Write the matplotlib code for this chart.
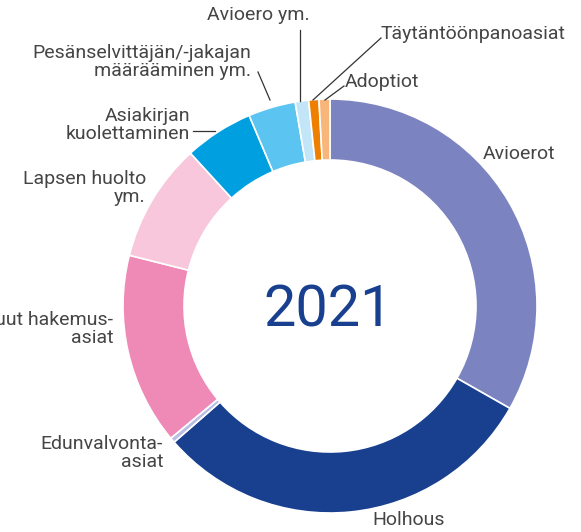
import matplotlib.pyplot as plt

# Donut slices, clockwise from the top
categories = ["Avioerot", "Holhous", "Edunvalvonta-asiat", "Muut hakemusasiat",
              "Lapsen huolto ym.", "Asiakirjan kuolettaminen",
              "Pesänselvittäjän/-jakajan määrääminen ym.", "Avioero ym.",
              "Täytäntöönpanoasiat", "Adoptiot"]
shares = [33.3, 30.4, 0.4, 15.0, 9.3, 5.4, 3.7, 1.05, 0.8, 0.85]
colors = ["#7b83c0", "#19408f", "#b9bee2", "#ef8ab6", "#f8c7dc",
          "#009fe0", "#5cc4f0", "#c2e5f8", "#ef7f00", "#f8b67a"]
year = "2021"

W, H = 581, 532
TXT = "#454545"
FONT = "Roboto"

fig = plt.figure(figsize=(W / 100, H / 100), dpi=100)
ax = fig.add_axes([0, 0, 1, 1])

ax.pie(shares, colors=colors, startangle=90, counterclock=False,
       center=(330, H - 306), radius=207,
       wedgeprops=dict(width=61, edgecolor="white", linewidth=1.2))
ax.set_xlim(0, W)
ax.set_ylim(0, H)
ax.set_aspect("equal")
ax.axis("off")

ax.text(328, H - 305, year, ha="center", va="center_baseline", fontsize=41.5,
        color="#19408f", family=FONT)


def label(x, y, s, ha="left"):
    ax.text(x, H - y, s, ha=ha, va="center", fontsize=14, color=TXT,
            family=FONT, linespacing=1.02)


def leader(x0, y0, x1, y1):
    ax.plot([x0, x1], [H - y0, H - y1], color="#333333", lw=0.9)


label(483, 154, "Avioerot")
label(372, 520, "Holhous")
label(163, 453, "Edunvalvonta-\nasiat", ha="right")
label(113, 329, "Muut hakemus-\nasiat", ha="right")
label(146, 188, "Lapsen huolto\nym.", ha="right")
label(190, 125, "Asiakirjan\nkuolettaminen", ha="right")
label(251, 62, "Pesänselvittäjän/-jakajan\nmäärääminen ym.", ha="right")
label(258, 15, "Avioero ym.", ha="center")
label(381, 34, "Täytäntöönpanoasiat")
label(345, 82, "Adoptiot")

leader(300, 30, 300, 101)
leader(381, 38, 313, 100)
leader(344, 86, 325, 100)
leader(258, 72, 270, 100)
leader(193, 131, 215, 131)

fig.savefig("out.png", dpi=100)
